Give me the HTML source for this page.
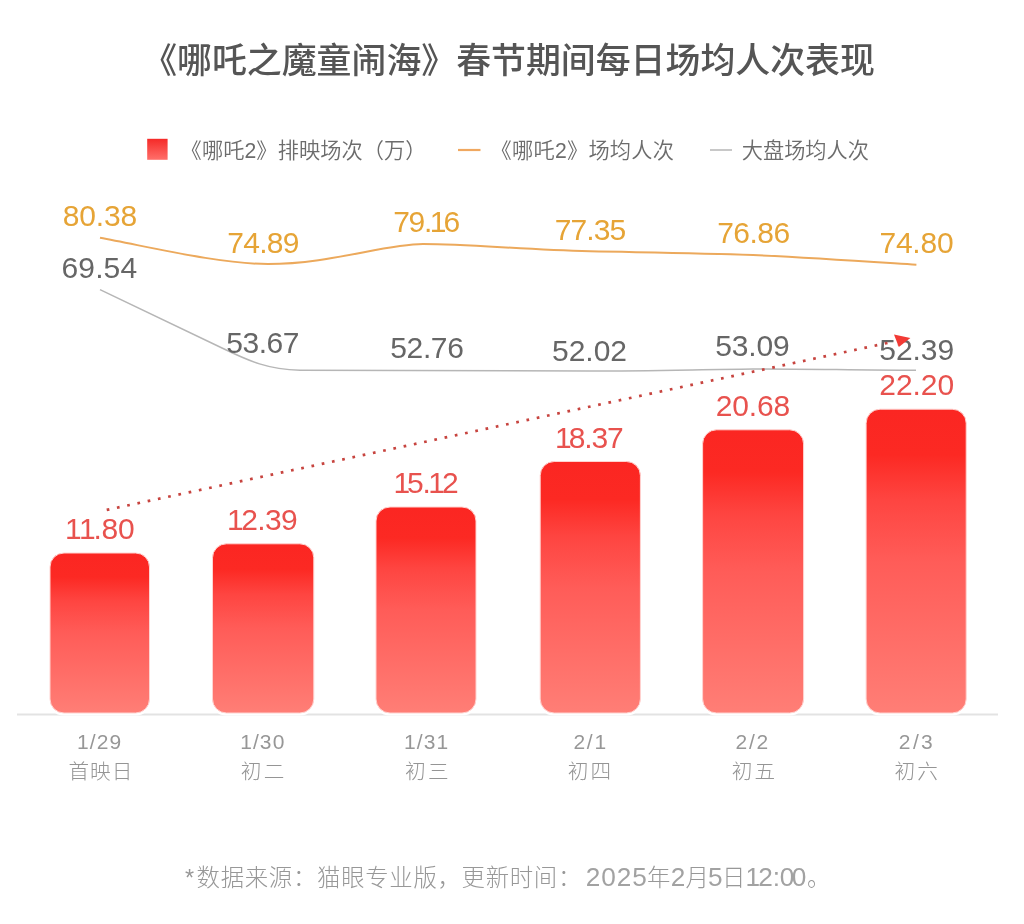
<!DOCTYPE html>
<html lang="zh-CN">
<head>
<meta charset="utf-8">
<title>《哪吒之魔童闹海》春节期间每日场均人次表现</title>
<style>
html,body{margin:0;padding:0;background:#fff;}
body{width:1024px;height:924px;overflow:hidden;position:relative;}
svg{position:absolute;left:0;top:0;display:block;}
.cjk{font-family:"Liberation Sans","Noto Sans CJK SC",sans-serif;}
.num{font-family:"Liberation Sans",sans-serif;}
.title{font-size:34.9px;font-weight:500;fill:#555;}
.legend{font-size:21.2px;font-weight:350;fill:#6c6c6c;}
.val{font-size:30px;text-anchor:middle;}
.o{fill:#e6a436;}
.g{fill:#666;}
.r{fill:#e8524e;}
.ax{font-size:21px;fill:#979797;text-anchor:middle;letter-spacing:1.1px;}
.axc{font-size:20.6px;letter-spacing:1px;fill:#959595;text-anchor:middle;font-weight:300;}
.foot{font-size:23.4px;fill:#989898;font-weight:300;}
.fd{font-size:26.2px;fill:#a2a2a2;}
</style>
</head>
<body>
<svg width="1024" height="924" viewBox="0 0 1024 924">
<defs>
<linearGradient id="bar" x1="0" y1="0" x2="0" y2="1">
<stop offset="0" stop-color="#fb2622"/>
<stop offset="0.15" stop-color="#fc2923"/>
<stop offset="0.30" stop-color="#fe4541"/>
<stop offset="0.5" stop-color="#ff5c58"/>
<stop offset="1" stop-color="#ff7e76"/>
</linearGradient>
<linearGradient id="sq" x1="0" y1="0" x2="0" y2="1">
<stop offset="0" stop-color="#f52a28"/>
<stop offset="1" stop-color="#ff6f6a"/>
</linearGradient>
</defs>
<rect width="1024" height="924" fill="#ffffff"/>

<!-- title -->
<text class="cjk title" x="508.5" y="72.9" text-anchor="middle">《哪吒之魔童闹海》春节期间每日场均人次表现</text>

<!-- legend -->
<rect x="147.2" y="138.8" width="20.4" height="21" fill="url(#sq)"/>
<text class="cjk legend" x="180.6" y="158" letter-spacing="0.1">《哪吒2》排映场次（万）</text>
<line x1="458" y1="150" x2="480.5" y2="150" stroke="#f0a860" stroke-width="2.2"/>
<text class="cjk legend" x="490.6" y="158" letter-spacing="0.25">《哪吒2》场均人次</text>
<line x1="710" y1="150" x2="732" y2="150" stroke="#c8c8c8" stroke-width="2"/>
<text class="cjk legend" x="741.8" y="158">大盘场均人次</text>

<!-- baseline -->
<line x1="17" y1="714.6" x2="998" y2="714.6" stroke="#e3e3e3" stroke-width="2"/>

<!-- bars -->
<g fill="url(#bar)" stroke="#ffffff" stroke-width="5">
<rect x="50" y="553" width="99.5" height="160" rx="14" ry="14"/>
<rect x="212.5" y="543.8" width="101.3" height="169.2" rx="14" ry="14"/>
<rect x="376" y="507" width="100" height="206" rx="14" ry="14"/>
<rect x="540.2" y="461.5" width="100.2" height="251.5" rx="14" ry="14"/>
<rect x="702.6" y="429.8" width="101" height="283.2" rx="14" ry="14"/>
<rect x="866.1" y="409.2" width="100.1" height="303.8" rx="14" ry="14"/>
</g>
<g fill="url(#bar)" stroke="#ffd3d0" stroke-width="1">
<rect x="50" y="553" width="99.5" height="160" rx="14" ry="14"/>
<rect x="212.5" y="543.8" width="101.3" height="169.2" rx="14" ry="14"/>
<rect x="376" y="507" width="100" height="206" rx="14" ry="14"/>
<rect x="540.2" y="461.5" width="100.2" height="251.5" rx="14" ry="14"/>
<rect x="702.6" y="429.8" width="101" height="283.2" rx="14" ry="14"/>
<rect x="866.1" y="409.2" width="100.1" height="303.8" rx="14" ry="14"/>
</g>

<!-- lines -->
<path d="M100,237.8 C150,247 220,264 268,264 C330,264 385,244 423,244 C470,244 520,249.5 590,251.3 C650,252.5 700,253 753,255 C810,257.5 860,261 916.4,264.7" fill="none" stroke="#eca95c" stroke-width="2"/>
<path d="M100,289.6 L222,348 C250,361.5 268,369.5 300,370.2 L590,371 C650,371 700,369.5 753,369 C800,368.8 850,370 916,370.3" fill="none" stroke="#b6b6b6" stroke-width="1.5"/>

<!-- value labels -->
<g class="num val o">
<text x="99.8" y="226.0" letter-spacing="-0.16">80.38</text>
<text x="263.0" y="253.0" letter-spacing="-0.72">74.89</text>
<text x="426.0" y="232.0" letter-spacing="-1.30">79.<tspan dx="-1.2">1</tspan><tspan dx="-1.8">6</tspan></text>
<text x="590.0" y="240.0" letter-spacing="-0.88">77.35</text>
<text x="753.4" y="243.0" letter-spacing="-0.56">76.86</text>
<text x="916.4" y="253.0" letter-spacing="-0.24">74.80</text>
</g>
<g class="num val g">
<text x="99.4" y="278.0" letter-spacing="0.12">69.54</text>
<text x="262.6" y="353.0" letter-spacing="-0.44">53.67</text>
<text x="426.9" y="358.0" letter-spacing="-0.36">52.76</text>
<text x="589.5" y="361.0" letter-spacing="0.00">52.02</text>
<text x="752.4" y="356.0" letter-spacing="-0.12">53.09</text>
<text x="916.7" y="360.0" letter-spacing="-0.04">52.39</text>
</g>
<g class="num val r">
<text x="100.8" y="539.0" letter-spacing="-0.30"><tspan dx="-1.2">1</tspan><tspan dx="-0.2">1</tspan><tspan dx="-1.8">.</tspan>80</text>
<text x="263.3" y="530.0" letter-spacing="-0.64"><tspan dx="-1.2">1</tspan><tspan dx="-1.8">2</tspan>.39</text>
<text x="426.6" y="493.0" letter-spacing="-1.30"><tspan dx="-1.2">1</tspan><tspan dx="-1.8">5</tspan>.<tspan dx="-1.2">1</tspan><tspan dx="-1.8">2</tspan></text>
<text x="589.9" y="448.0" letter-spacing="-1.16"><tspan dx="-1.2">1</tspan><tspan dx="-1.8">8</tspan>.37</text>
<text x="752.9" y="416.0" letter-spacing="-0.16">20.68</text>
<text x="916.7" y="395.0" letter-spacing="-0.04">22.20</text>
</g>

<!-- trend dotted -->
<line x1="106.7" y1="509.9" x2="893" y2="341.8" stroke="#c7443f" stroke-width="2.7" stroke-dasharray="2.7 7.77"/>
<polygon points="894,334.6 910.4,338 898.8,347" fill="#f23a35"/>

<!-- axis labels -->
<g class="num ax">
<text x="99.6" y="749">1/29</text>
<text x="262.8" y="749">1/30</text>
<text x="426.6" y="749">1/31</text>
<text x="590.7" y="749" letter-spacing="1.8">2/1</text>
<text x="752.8" y="749" letter-spacing="1.8">2/2</text>
<text x="917" y="749" letter-spacing="2.4">2/3</text>
</g>
<g class="cjk axc">
<text x="100.9" y="779.4">首映日</text>
<text x="263.8" y="779.4" letter-spacing="2.5">初二</text>
<text x="428" y="779.4" letter-spacing="2.5">初三</text>
<text x="590.4" y="779.4" letter-spacing="2">初四</text>
<text x="754.4" y="779.4" letter-spacing="2">初五</text>
<text x="917.2" y="779.4" letter-spacing="2">初六</text>
</g>

<!-- footer -->
<text class="cjk foot" y="886.2"><tspan x="185">*</tspan><tspan x="196.6" letter-spacing="0.7">数据来源：猫眼专业版，更新时间：</tspan><tspan class="fd" x="585.8" y="885.6" letter-spacing="0.9">2025</tspan><tspan x="647" y="886.2">年</tspan><tspan class="fd" x="670.8" y="885.6">2</tspan><tspan x="685.5" y="886.2">月</tspan><tspan class="fd" x="707.9" y="885.6">5</tspan><tspan x="722" y="886.2">日</tspan><tspan class="fd" x="745.4" y="885.6" letter-spacing="-1.7">12</tspan><tspan class="fd" x="772.7" y="885.6">:</tspan><tspan class="fd" x="779.7" y="885.6" letter-spacing="-2.6">00</tspan><tspan x="807" y="886.2">。</tspan></text>
</svg>
</body>
</html>
